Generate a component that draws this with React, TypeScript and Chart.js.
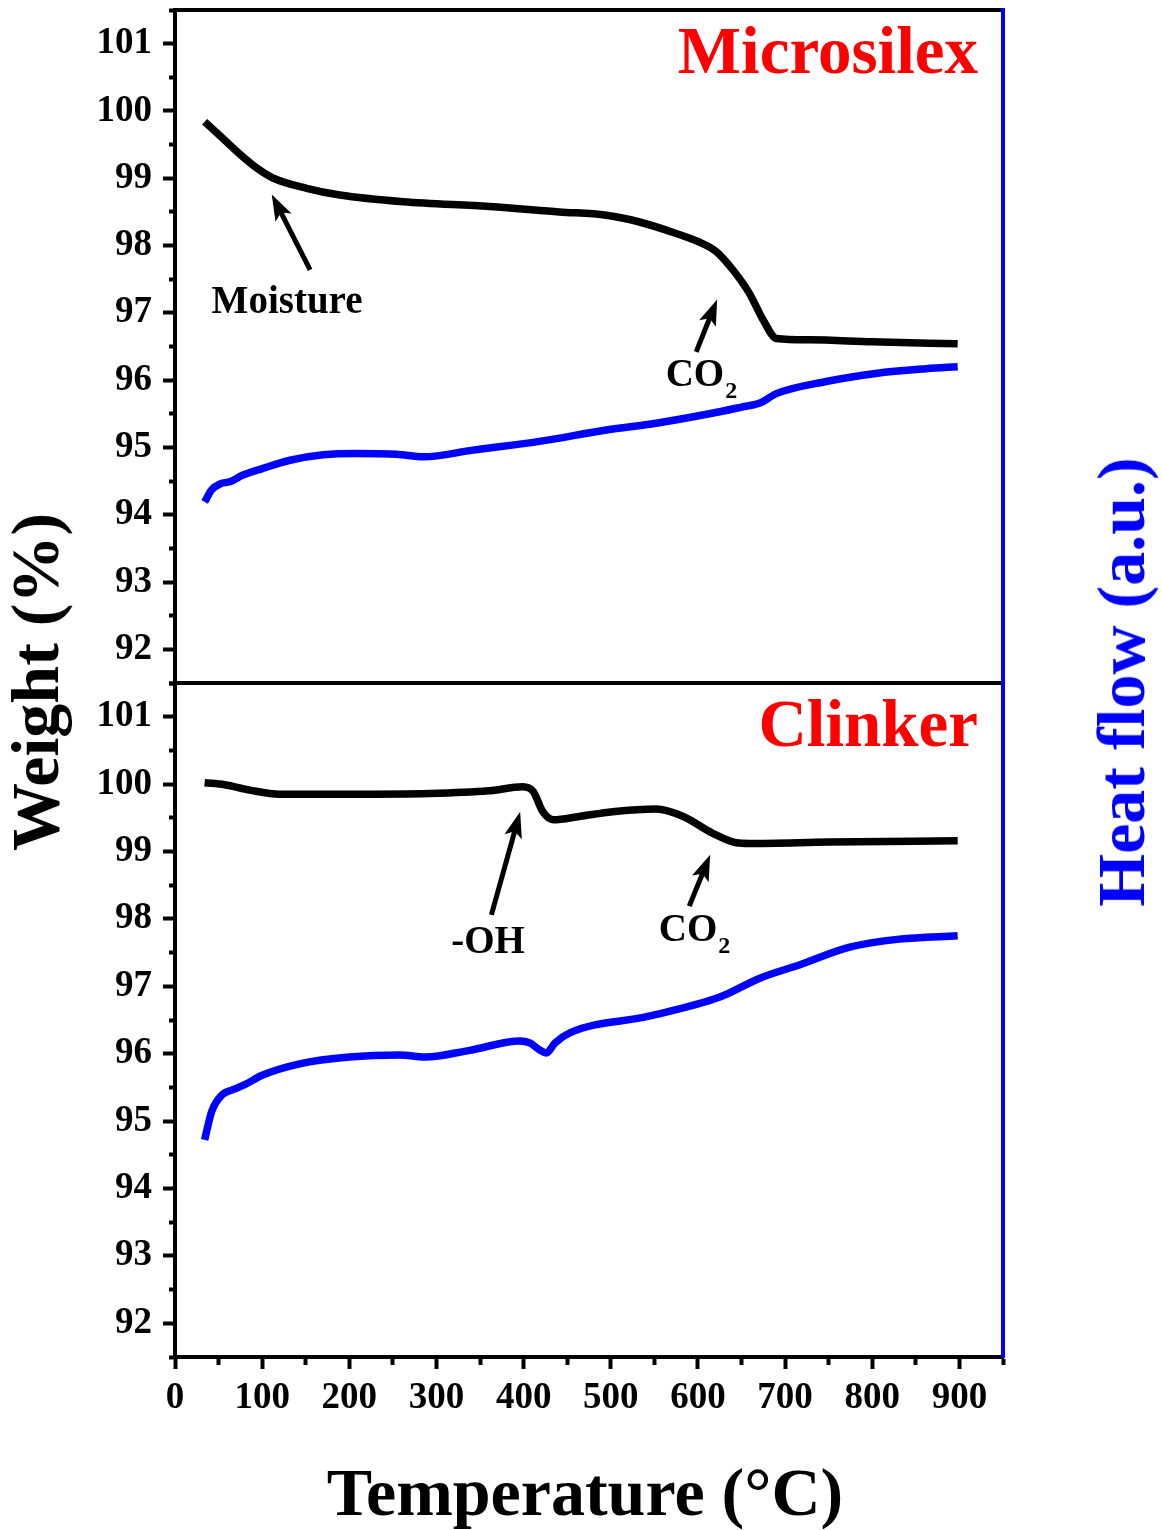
import React, { useEffect, useRef } from "react";
import { Chart, registerables } from "chart.js";

Chart.register(...registerables);

const SERIF = '"Liberation Serif", "Times New Roman", Times, serif';

// Temperature axis (°C) and weight axis (%) limits
const X_MIN = 0;
const X_MAX = 950;
const Y_MIN = 91.5;
const Y_MAX = 101.5;

// Microsilex – TGA weight loss
const MS_WEIGHT_T = [34, 55, 75, 94, 113, 151, 189, 262, 361, 441, 495, 533, 575, 600, 621, 640, 659, 675, 690, 728, 800, 898];
const MS_WEIGHT = [99.84, 99.59, 99.35, 99.15, 99.0, 98.85, 98.75, 98.65, 98.58, 98.5, 98.45, 98.35, 98.18, 98.06, 97.91, 97.64, 97.29, 96.89, 96.62, 96.6, 96.57, 96.54];

// Microsilex – heat flow
const MS_HEAT_T = [34, 42, 52, 63, 78, 101, 132, 170, 208, 254, 285, 342, 418, 495, 552, 613, 650, 671, 690, 747, 804, 862, 898];
const MS_HEAT = [94.19, 94.37, 94.46, 94.49, 94.59, 94.69, 94.81, 94.89, 94.91, 94.9, 94.86, 94.96, 95.09, 95.26, 95.36, 95.5, 95.6, 95.66, 95.8, 95.98, 96.1, 96.17, 96.2];

// Clinker – TGA weight loss
const CK_WEIGHT_T = [34, 57, 86, 120, 200, 292, 360, 399, 411, 422, 434, 464, 502, 552, 583, 617, 644, 659, 750, 898];
const CK_WEIGHT = [100.02, 99.99, 99.91, 99.85, 99.85, 99.86, 99.9, 99.96, 99.89, 99.59, 99.47, 99.52, 99.59, 99.63, 99.52, 99.27, 99.13, 99.12, 99.14, 99.16];

// Clinker – heat flow
const CK_HEAT_T = [34, 42, 54, 65, 80, 100, 143, 200, 258, 287, 338, 396, 407, 418, 426, 436, 453, 545, 625, 671, 717, 774, 831, 898];
const CK_HEAT = [94.72, 95.14, 95.39, 95.46, 95.54, 95.68, 95.85, 95.95, 95.98, 95.95, 96.05, 96.19, 96.16, 96.06, 96.01, 96.16, 96.31, 96.56, 96.84, 97.12, 97.32, 97.58, 97.7, 97.75];

// Annotation labels: [text, subscript, temperature, weight at baseline]
type Note = [string, string, number, number];
// Annotation arrows: [tail T, tail W, head T, head W]
type Arrow = [number, number, number, number];

const MS_NOTES: Note[] = [
  ["Moisture", "", 42, 97.0],
  ["CO", "2", 563, 95.91],
];
const MS_ARROWS: Arrow[] = [
  [155, 97.64, 111, 98.76],
  [598, 96.42, 622, 97.2],
];
const CK_NOTES: Note[] = [
  ["-OH", "", 317, 97.49],
  ["CO", "2", 555, 97.67],
];
const CK_ARROWS: Arrow[] = [
  [363, 98.06, 396, 99.59],
  [590, 98.19, 614, 98.95],
];

const toPoints = (xs: number[], ys: number[]) => xs.map((x, i) => ({ x, y: ys[i] }));

const isWhole = (v: number) => Math.abs(v - Math.round(v)) < 1e-6;

function drawArrow(ctx: CanvasRenderingContext2D, x0: number, y0: number, x1: number, y1: number) {
  const ang = Math.atan2(y1 - y0, x1 - x0);
  const head = 26;
  const half = 9;
  const c = Math.cos(ang);
  const s = Math.sin(ang);
  const bx = x1 - head * c;
  const by = y1 - head * s;
  ctx.save();
  ctx.strokeStyle = "#000";
  ctx.fillStyle = "#000";
  ctx.lineWidth = 5;
  ctx.lineCap = "butt";
  ctx.beginPath();
  ctx.moveTo(x0, y0);
  ctx.lineTo(x1 - head * 0.7 * c, y1 - head * 0.7 * s);
  ctx.stroke();
  ctx.beginPath();
  ctx.moveTo(x1, y1);
  ctx.lineTo(bx + half * s, by - half * c);
  ctx.lineTo(x1 - head * 0.78 * c, y1 - head * 0.78 * s);
  ctx.lineTo(bx - half * s, by + half * c);
  ctx.closePath();
  ctx.fill();
  ctx.restore();
}

function makeNotesPlugin(title: string, notes: Note[], arrows: Arrow[]) {
  return {
    id: "panelNotes",
    afterDatasetsDraw(chart: any) {
      const { ctx, chartArea } = chart;
      const xs = chart.scales.x;
      const ys = chart.scales.y;
      ctx.save();
      // panel title
      ctx.font = `bold 67px ${SERIF}`;
      ctx.fillStyle = "#ff0000";
      ctx.textAlign = "right";
      ctx.textBaseline = "alphabetic";
      ctx.fillText(title, chartArea.right - 25, chartArea.top + 63);
      // labels
      ctx.fillStyle = "#000";
      ctx.textAlign = "left";
      for (const [text, sub, t, w] of notes) {
        const x = xs.getPixelForValue(t);
        const y = ys.getPixelForValue(w);
        ctx.font = `bold 39px ${SERIF}`;
        ctx.fillText(text, x, y);
        if (sub) {
          const tw = ctx.measureText(text).width;
          ctx.font = `bold 24px ${SERIF}`;
          ctx.fillText(sub, x + tw + 1, y + 12);
        }
      }
      for (const [t0, w0, t1, w1] of arrows) {
        drawArrow(ctx, xs.getPixelForValue(t0), ys.getPixelForValue(w0), xs.getPixelForValue(t1), ys.getPixelForValue(w1));
      }
      ctx.restore();
    },
  };
}

function zeroPad(scale: any) {
  scale.paddingTop = 0;
  scale.paddingBottom = 0;
  scale.paddingLeft = 0;
  scale.paddingRight = 0;
}

function buildConfig(
  weightT: number[],
  weight: number[],
  heatT: number[],
  heat: number[],
  title: string,
  notes: Note[],
  arrows: Arrow[],
  showXLabels: boolean,
  padding: { top: number; right: number; bottom: number; left: number },
  xHeight: number
): any {
  const tickFont = { family: SERIF, size: 37, weight: "bold" as const };
  return {
    type: "line",
    data: {
      datasets: [
        {
          label: "Weight",
          data: toPoints(weightT, weight),
          borderColor: "#000000",
          borderWidth: 7.5,
          pointRadius: 0,
          cubicInterpolationMode: "monotone",
          yAxisID: "y",
        },
        {
          label: "Heat flow",
          data: toPoints(heatT, heat),
          borderColor: "#0000ff",
          borderWidth: 7.5,
          pointRadius: 0,
          cubicInterpolationMode: "monotone",
          yAxisID: "y",
        },
      ],
    },
    options: {
      responsive: false,
      animation: false,
      devicePixelRatio: 1,
      parsing: true,
      layout: { padding },
      plugins: {
        legend: { display: false },
        tooltip: { enabled: false },
        title: { display: false },
      },
      scales: {
        x: {
          type: "linear",
          position: "bottom",
          min: X_MIN,
          max: X_MAX,
          border: { display: true, color: "#000", width: 4 },
          grid: {
            drawOnChartArea: false,
            drawTicks: showXLabels,
            tickLength: 12,
            tickWidth: 4,
            tickColor: "#000",
            tickBorderDash: (c: any) => (c.tick && c.tick.value % 100 === 0 ? [] : [6, 100]),
          },
          ticks: {
            display: showXLabels,
            stepSize: 50,
            autoSkip: false,
            maxRotation: 0,
            padding: 7,
            color: "#000",
            font: tickFont,
            callback: (v: number) => (v % 100 === 0 && v <= 900 ? String(v) : ""),
          },
          afterFit: (s: any) => {
            s.height = xHeight;
            zeroPad(s);
          },
        },
        xTop: {
          type: "linear",
          position: "top",
          min: X_MIN,
          max: X_MAX,
          border: { display: true, color: "#000", width: 4 },
          grid: { drawOnChartArea: false, drawTicks: false },
          ticks: { display: false },
          afterFit: (s: any) => {
            s.height = 0;
            zeroPad(s);
          },
        },
        y: {
          type: "linear",
          position: "left",
          min: Y_MIN,
          max: Y_MAX,
          border: { display: true, color: "#000", width: 4 },
          grid: {
            drawOnChartArea: false,
            drawTicks: true,
            tickLength: 12,
            tickWidth: 4,
            tickColor: "#000",
            tickBorderDash: (c: any) => (c.tick && isWhole(c.tick.value) ? [] : [0, 6, 100]),
          },
          ticks: {
            stepSize: 0.5,
            autoSkip: false,
            padding: 11,
            color: "#000",
            font: tickFont,
            callback: (v: number) => (isWhole(v) && v >= 92 && v <= 101 ? String(Math.round(v)) : ""),
          },
          afterFit: (s: any) => {
            s.width = 175;
            zeroPad(s);
          },
        },
        yHeat: {
          type: "linear",
          position: "right",
          min: Y_MIN,
          max: Y_MAX,
          border: { display: true, color: "#0000ff", width: 4 },
          grid: { drawOnChartArea: false, drawTicks: false },
          ticks: { display: false },
          afterFit: (s: any) => {
            s.width = 0;
            zeroPad(s);
          },
        },
      },
    },
    plugins: [makeNotesPlugin(title, notes, arrows)],
  };
}

function Panel(props: { top: number; height: number; config: () => any }) {
  const ref = useRef<HTMLCanvasElement | null>(null);
  useEffect(() => {
    if (!ref.current) return;
    const chart = new Chart(ref.current, props.config());
    return () => chart.destroy();
  }, []);
  return (
    <canvas
      ref={ref}
      width={1162}
      height={props.height}
      style={{ position: "absolute", left: 0, top: props.top, width: 1162, height: props.height }}
    />
  );
}

export default function App() {
  const titleFont = `bold 68px ${SERIF}`;
  return (
    <div style={{ position: "absolute", left: 0, top: 0, width: 1162, height: 1530, background: "#fff", overflow: "hidden" }}>
      <Panel
        top={0}
        height={700}
        config={() =>
          buildConfig(MS_WEIGHT_T, MS_WEIGHT, MS_HEAT_T, MS_HEAT, "Microsilex", MS_NOTES, MS_ARROWS, false, { top: 10, right: 159, bottom: 17, left: 0 }, 0)
        }
      />
      <Panel
        top={663}
        height={867}
        config={() =>
          buildConfig(CK_WEIGHT_T, CK_WEIGHT, CK_HEAT_T, CK_HEAT, "Clinker", CK_NOTES, CK_ARROWS, true, { top: 20, right: 159, bottom: 113, left: 0 }, 60)
        }
      />
      <div
        style={{
          position: "absolute",
          left: 35,
          top: 682,
          transform: "translate(-50%, -50%) rotate(-90deg)",
          font: titleFont,
          lineHeight: 1,
          whiteSpace: "nowrap",
          color: "#000",
        }}
      >
        Weight (%)
      </div>
      <div
        style={{
          position: "absolute",
          left: 1121,
          top: 682,
          transform: "translate(-50%, -50%) rotate(-90deg)",
          font: titleFont,
          lineHeight: 1,
          whiteSpace: "nowrap",
          color: "#0000ff",
        }}
      >
        Heat flow (a.u.)
      </div>
      <div
        style={{
          position: "absolute",
          left: 585,
          top: 1492,
          transform: "translate(-50%, -50%)",
          font: titleFont,
          lineHeight: 1,
          whiteSpace: "nowrap",
          color: "#000",
        }}
      >
        Temperature (°C)
      </div>
    </div>
  );
}
